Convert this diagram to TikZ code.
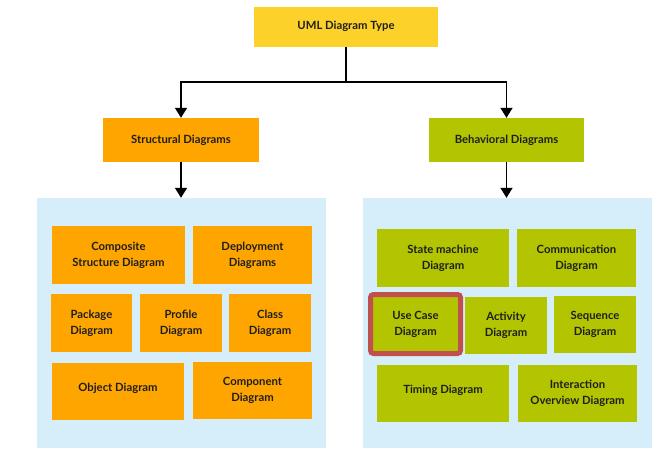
\documentclass[tikz,border=0pt]{standalone}
\usepackage{fontspec}
\setmainfont{Lato}
\usepackage{tikz}
\usetikzlibrary{arrows.meta}

\definecolor{umlyellow}{HTML}{FCD22A}
\definecolor{strorange}{HTML}{FFA500}
\definecolor{behgreen}{HTML}{B3C500}
\definecolor{panelblue}{HTML}{D6EEF9}
\definecolor{markred}{HTML}{C0504D}
\definecolor{txtdark}{HTML}{1E1E1E}

\newcommand{\oneline}[1]{\raisebox{9pt}{#1}}

\tikzset{
    box/.style={inner sep=0pt, align=center, text=txtdark,
        font=\bfseries\fontsize{11.3}{16}\selectfont},
    sbox/.style={box, fill=strorange},
    bbox/.style={box, fill=behgreen},
    panel/.style={fill=panelblue, inner sep=0pt},
    link/.style={line width=1.5pt, black},
    tip/.style={link, -{Triangle[width=12pt,length=10pt]}}
}

\begin{document}
\begin{tikzpicture}[x=1pt,y=-1pt]
    \useasboundingbox (0,0) rectangle (670,453);
    % top levels
    \node[box, fill=umlyellow, minimum width=184, minimum height=40] (uml) at (346,27) {\raisebox{3pt}{UML Diagram Type}};
    \node[sbox, minimum width=156, minimum height=44] (struct) at (181,140) {\raisebox{2pt}{Structural Diagrams}};
    \node[bbox, minimum width=155, minimum height=44] (behav) at (506.5,140) {\raisebox{2pt}{Behavioral Diagrams}};
    \node[panel, minimum width=289, minimum height=250] (lpanel) at (181.5,323) {};
    \node[panel, minimum width=289, minimum height=250] (rpanel) at (507.5,323) {};
    \coordinate (split) at (346,82);
    \draw[link] (uml) -- (split);
    \draw[tip] (split) -| (struct.north);
    \draw[tip] (split) -| (behav.north);
    \draw[tip] (struct.south) -- (struct.south |- lpanel.north);
    \draw[tip] (behav.south) -- (behav.south |- rpanel.north);
    % structural
    \node[sbox, minimum width=133, minimum height=58] (composite) at (118.5,255) {Composite\\Structure Diagram};
    \node[sbox, minimum width=119, minimum height=58] (deploy) at (252.5,255) {Deployment\\Diagrams};
    \node[sbox, minimum width=81, minimum height=58] (package) at (91.5,323) {Package\\Diagram};
    \node[sbox, minimum width=82, minimum height=58] (profile) at (181,323) {Profile\\Diagram};
    \node[sbox, minimum width=82, minimum height=58] (class) at (270,323) {Class\\Diagram};
    \node[sbox, minimum width=132, minimum height=57] (object) at (118,391.5) {\oneline{Object Diagram}};
    \node[sbox, minimum width=119, minimum height=57] (component) at (252.5,390.5) {Component\\Diagram};
    % behavioral
    \node[bbox, minimum width=132, minimum height=58] (state) at (443,258) {State machine\\Diagram};
    \node[bbox, minimum width=119, minimum height=58] (comm) at (576.5,258) {Communication\\Diagram};
    \node[bbox, draw=markred, line width=5pt, rounded corners=3pt,
          minimum width=90, minimum height=59] (usecase) at (415.5,324) {Use Case\\Diagram};
    \node[bbox, minimum width=82, minimum height=57] (activity) at (506,325.5) {Activity\\Diagram};
    \node[bbox, minimum width=82, minimum height=57] (sequence) at (595,324.5) {Sequence\\Diagram};
    \node[bbox, minimum width=132, minimum height=57] (timing) at (443,393.5) {\oneline{Timing Diagram}};
    \node[bbox, minimum width=119, minimum height=57] (interact) at (577.5,393.5) {Interaction\\Overview Diagram};
\end{tikzpicture}
\end{document}
